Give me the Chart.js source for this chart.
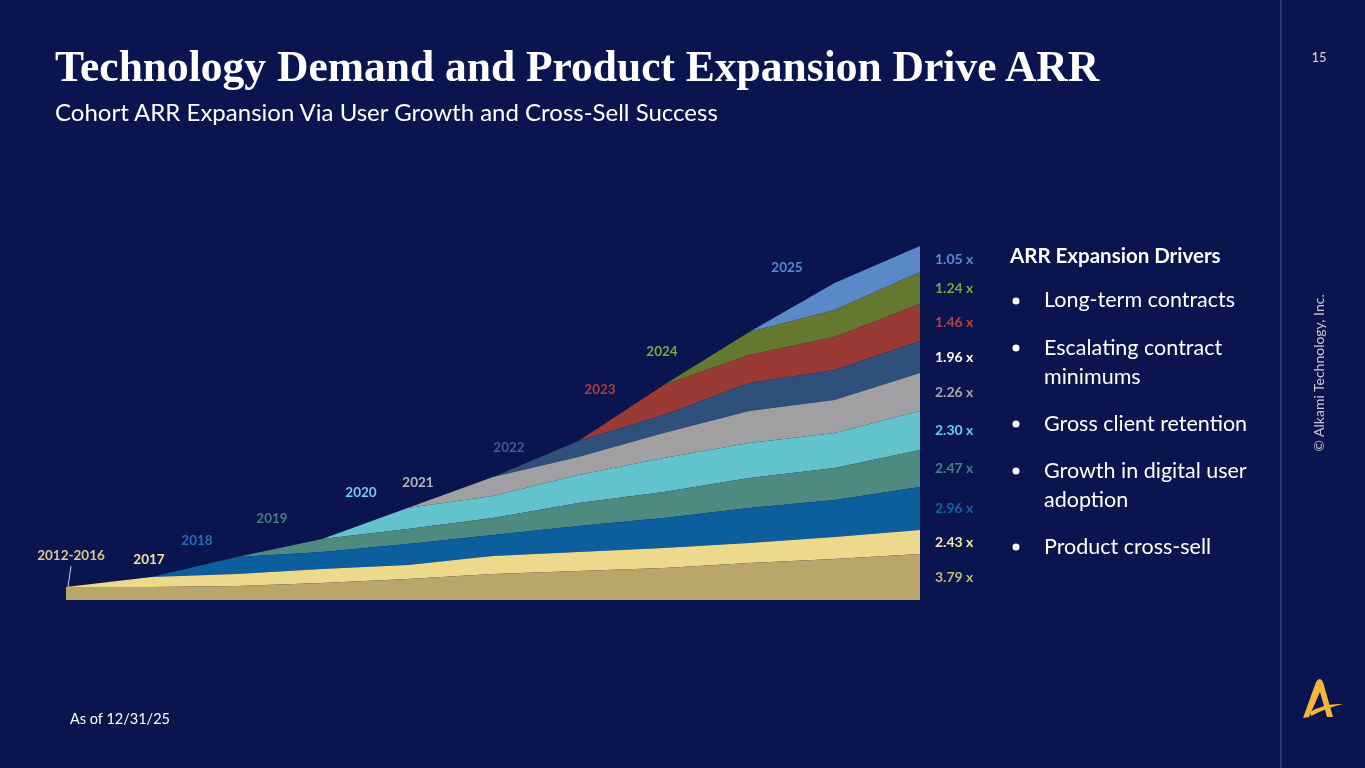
<!DOCTYPE html>
<html>
<head>
<meta charset="utf-8">
<script src="https://cdn.jsdelivr.net/npm/chart.js@4"></script>
<style>
  html, body { margin: 0; padding: 0; background: #0a144f; }
  #wrap { position: relative; width: 1365px; height: 768px; overflow: hidden; background: #0a144f; }
  #chart { position: absolute; left: 0; top: 0; }
  #over { position: absolute; left: 0; top: 0; }
</style>
</head>
<body>
<div id="wrap">
  <canvas id="chart" width="1365" height="768"></canvas>
  <svg id="over" width="1365" height="768">
    <line x1="1281" y1="0" x2="1281" y2="768" stroke="#34437f" stroke-width="1.5"/>
    <text x="55" y="81" fill="#ffffff" font-family="Liberation Serif" font-weight="bold" font-size="43.5">Technology Demand and Product Expansion Drive ARR</text>
    <text x="55" y="121" fill="#ffffff" font-family="Lato" font-size="24">Cohort ARR Expansion Via User Growth and Cross-Sell Success</text>
    <text x="1319" y="62" fill="#d8dbe8" font-family="Lato" font-size="13" text-anchor="middle">15</text>
    <text transform="translate(1324,373) rotate(-90)" fill="#c8cbd8" font-family="Lato" font-size="14" text-anchor="middle">© Alkami Technology, Inc.</text>

    <text x="1010" y="263" fill="#ffffff" font-family="Lato" font-weight="bold" font-size="20.5">ARR Expansion Drivers</text>
    <g fill="#ffffff" font-family="Lato" font-size="21.5">
      <circle cx="1016" cy="301" r="3.5"/>
      <text x="1044" y="307">Long-term contracts</text>
      <circle cx="1016" cy="348" r="3.5"/>
      <text x="1044" y="355">Escalating contract</text>
      <text x="1044" y="384">minimums</text>
      <circle cx="1016" cy="424" r="3.5"/>
      <text x="1044" y="431">Gross client retention</text>
      <circle cx="1016" cy="471" r="3.5"/>
      <text x="1044" y="478">Growth in digital user</text>
      <text x="1044" y="507">adoption</text>
      <circle cx="1016" cy="547" r="3.5"/>
      <text x="1044" y="554">Product cross-sell</text>
    </g>

    <text x="70" y="724" fill="#ffffff" font-family="Lato" font-size="14.5">As of 12/31/25</text>

    <!-- cohort labels -->
    <g font-family="Lato" font-weight="bold" font-size="13.5" text-anchor="middle">
      <text x="71" y="560" fill="#d9c890">2012-2016</text>
      <text x="149" y="564" fill="#f3e4a6">2017</text>
      <text x="197" y="545" fill="#2a6db2">2018</text>
      <text x="272" y="523" fill="#4c7d86">2019</text>
      <text x="361" y="497" fill="#7cc9ea">2020</text>
      <text x="418" y="487" fill="#b8b8bc">2021</text>
      <text x="509" y="452" fill="#3f5b88">2022</text>
      <text x="600" y="394" fill="#a9403c">2023</text>
      <text x="662" y="356" fill="#86a43c">2024</text>
      <text x="787" y="272" fill="#5b8ace">2025</text>
    </g>
    <line x1="68" y1="587" x2="71" y2="566" stroke="#c9cde0" stroke-width="1"/>

    <!-- logo -->
    <path d="M1303,718 L1316,682 Q1320,676 1323,682 L1333,717 L1327,717 L1320,692 L1309,717 Z" fill="#f2b63c"/>
    <path d="M1310,712 Q1325,703 1343,704 Q1326,708 1311,716 Z" fill="#f2b63c"/>
  </svg>
</div>
<script>
// x points along the time axis (index 0..10), cohorts stacked from the bottom
var cohorts = ['2012-2016', '2017', '2018', '2019', '2020', '2021', '2022', '2023', '2024', '2025'];
var multiples = ['3.79 x', '2.43 x', '2.96 x', '2.47 x', '2.30 x', '2.26 x', '1.96 x', '1.46 x', '1.24 x', '1.05 x'];
var steps = [0, 1, 2, 3, 4, 5, 6, 7, 8, 9, 10];

var arr2012 = [13, 13, 14, 17, 21, 26, 29, 32, 37, 41, 46];
var arr2017 = [0, 10, 12, 14, 14, 18, 19, 20, 20, 22, 24];
var arr2018 = [null, 0, 17, 17, 21, 21, 26, 30, 35, 37, 43];
var arr2019 = [null, null, 0, 13, 15, 17, 23, 26, 30, 32, 37];
var arr2020 = [null, null, null, 0, 21, 22, 28, 34, 35, 35, 39];
var arr2021 = [null, null, null, null, 0, 19, 18, 25, 32, 33, 38];
var arr2022 = [null, null, null, null, null, 0, 16, 18, 28, 30, 32];
var arr2023 = [null, null, null, null, null, null, 0, 30, 28, 33, 37];
var arr2024 = [null, null, null, null, null, null, null, 0, 23, 27, 32];
var arr2025 = [null, null, null, null, null, null, null, null, 0, 27, 26];

var series = [arr2012, arr2017, arr2018, arr2019, arr2020, arr2021, arr2022, arr2023, arr2024, arr2025];
var fills = ['#b9a66b', '#ecd98b', '#0c5e9c', '#4e8a80', '#62c3cc', '#a0a0a2', '#2f507a', '#993a34', '#65782f', '#5a88c8'];
var labelColors = ['#c9b47a', '#f5e7a8', '#1e5fa4', '#4d7f88', '#72c8ee', '#a8a8ac', '#ffffff', '#b8413c', '#84a23a', '#5b8ccf'];

var datasets = [];
for (var i = 0; i < series.length; i++) {
    var pts = [];
    for (var j = 0; j < steps.length; j++) {
        pts.push({x: steps[j], y: series[i][j]});
    }
    datasets.push({
        label: cohorts[i],
        data: pts,
        backgroundColor: fills[i],
        borderWidth: 0,
        pointRadius: 0,
        tension: 0,
        fill: i == 0 ? 'origin' : '-1'
    });
}

// writes the multiple next to each band, at the middle of its last point
var endLabels = {
    id: 'endLabels',
    afterDatasetsDraw: function(chart) {
        var ctx = chart.ctx;
        var y = chart.scales.y;
        var x = chart.scales.x;
        var base = 0;
        ctx.save();
        ctx.font = 'bold 14px Lato';
        ctx.textBaseline = 'middle';
        for (var i = 0; i < series.length; i++) {
            var v = series[i][series[i].length - 1];
            var mid = y.getPixelForValue(base + v / 2);
            base += v;
            ctx.fillStyle = labelColors[i];
            ctx.fillText(multiples[i], x.getPixelForValue(10) + 15, mid);
        }
        ctx.restore();
    }
};

var ctx = document.getElementById('chart');
var chart = new Chart(ctx, {
    type: 'line',
    data: { datasets: datasets },
    options: {
        responsive: false,
        animation: false,
        devicePixelRatio: 1,
        layout: { padding: { left: 66, right: 445, top: 240, bottom: 168 } },
        plugins: { legend: { display: false }, tooltip: { enabled: false } },
        scales: {
            x: { type: 'linear', min: 0, max: 10, display: false },
            y: { stacked: true, min: 0, max: 360, display: false }
        }
    },
    plugins: [endLabels]
});
</script>
</body>
</html>
